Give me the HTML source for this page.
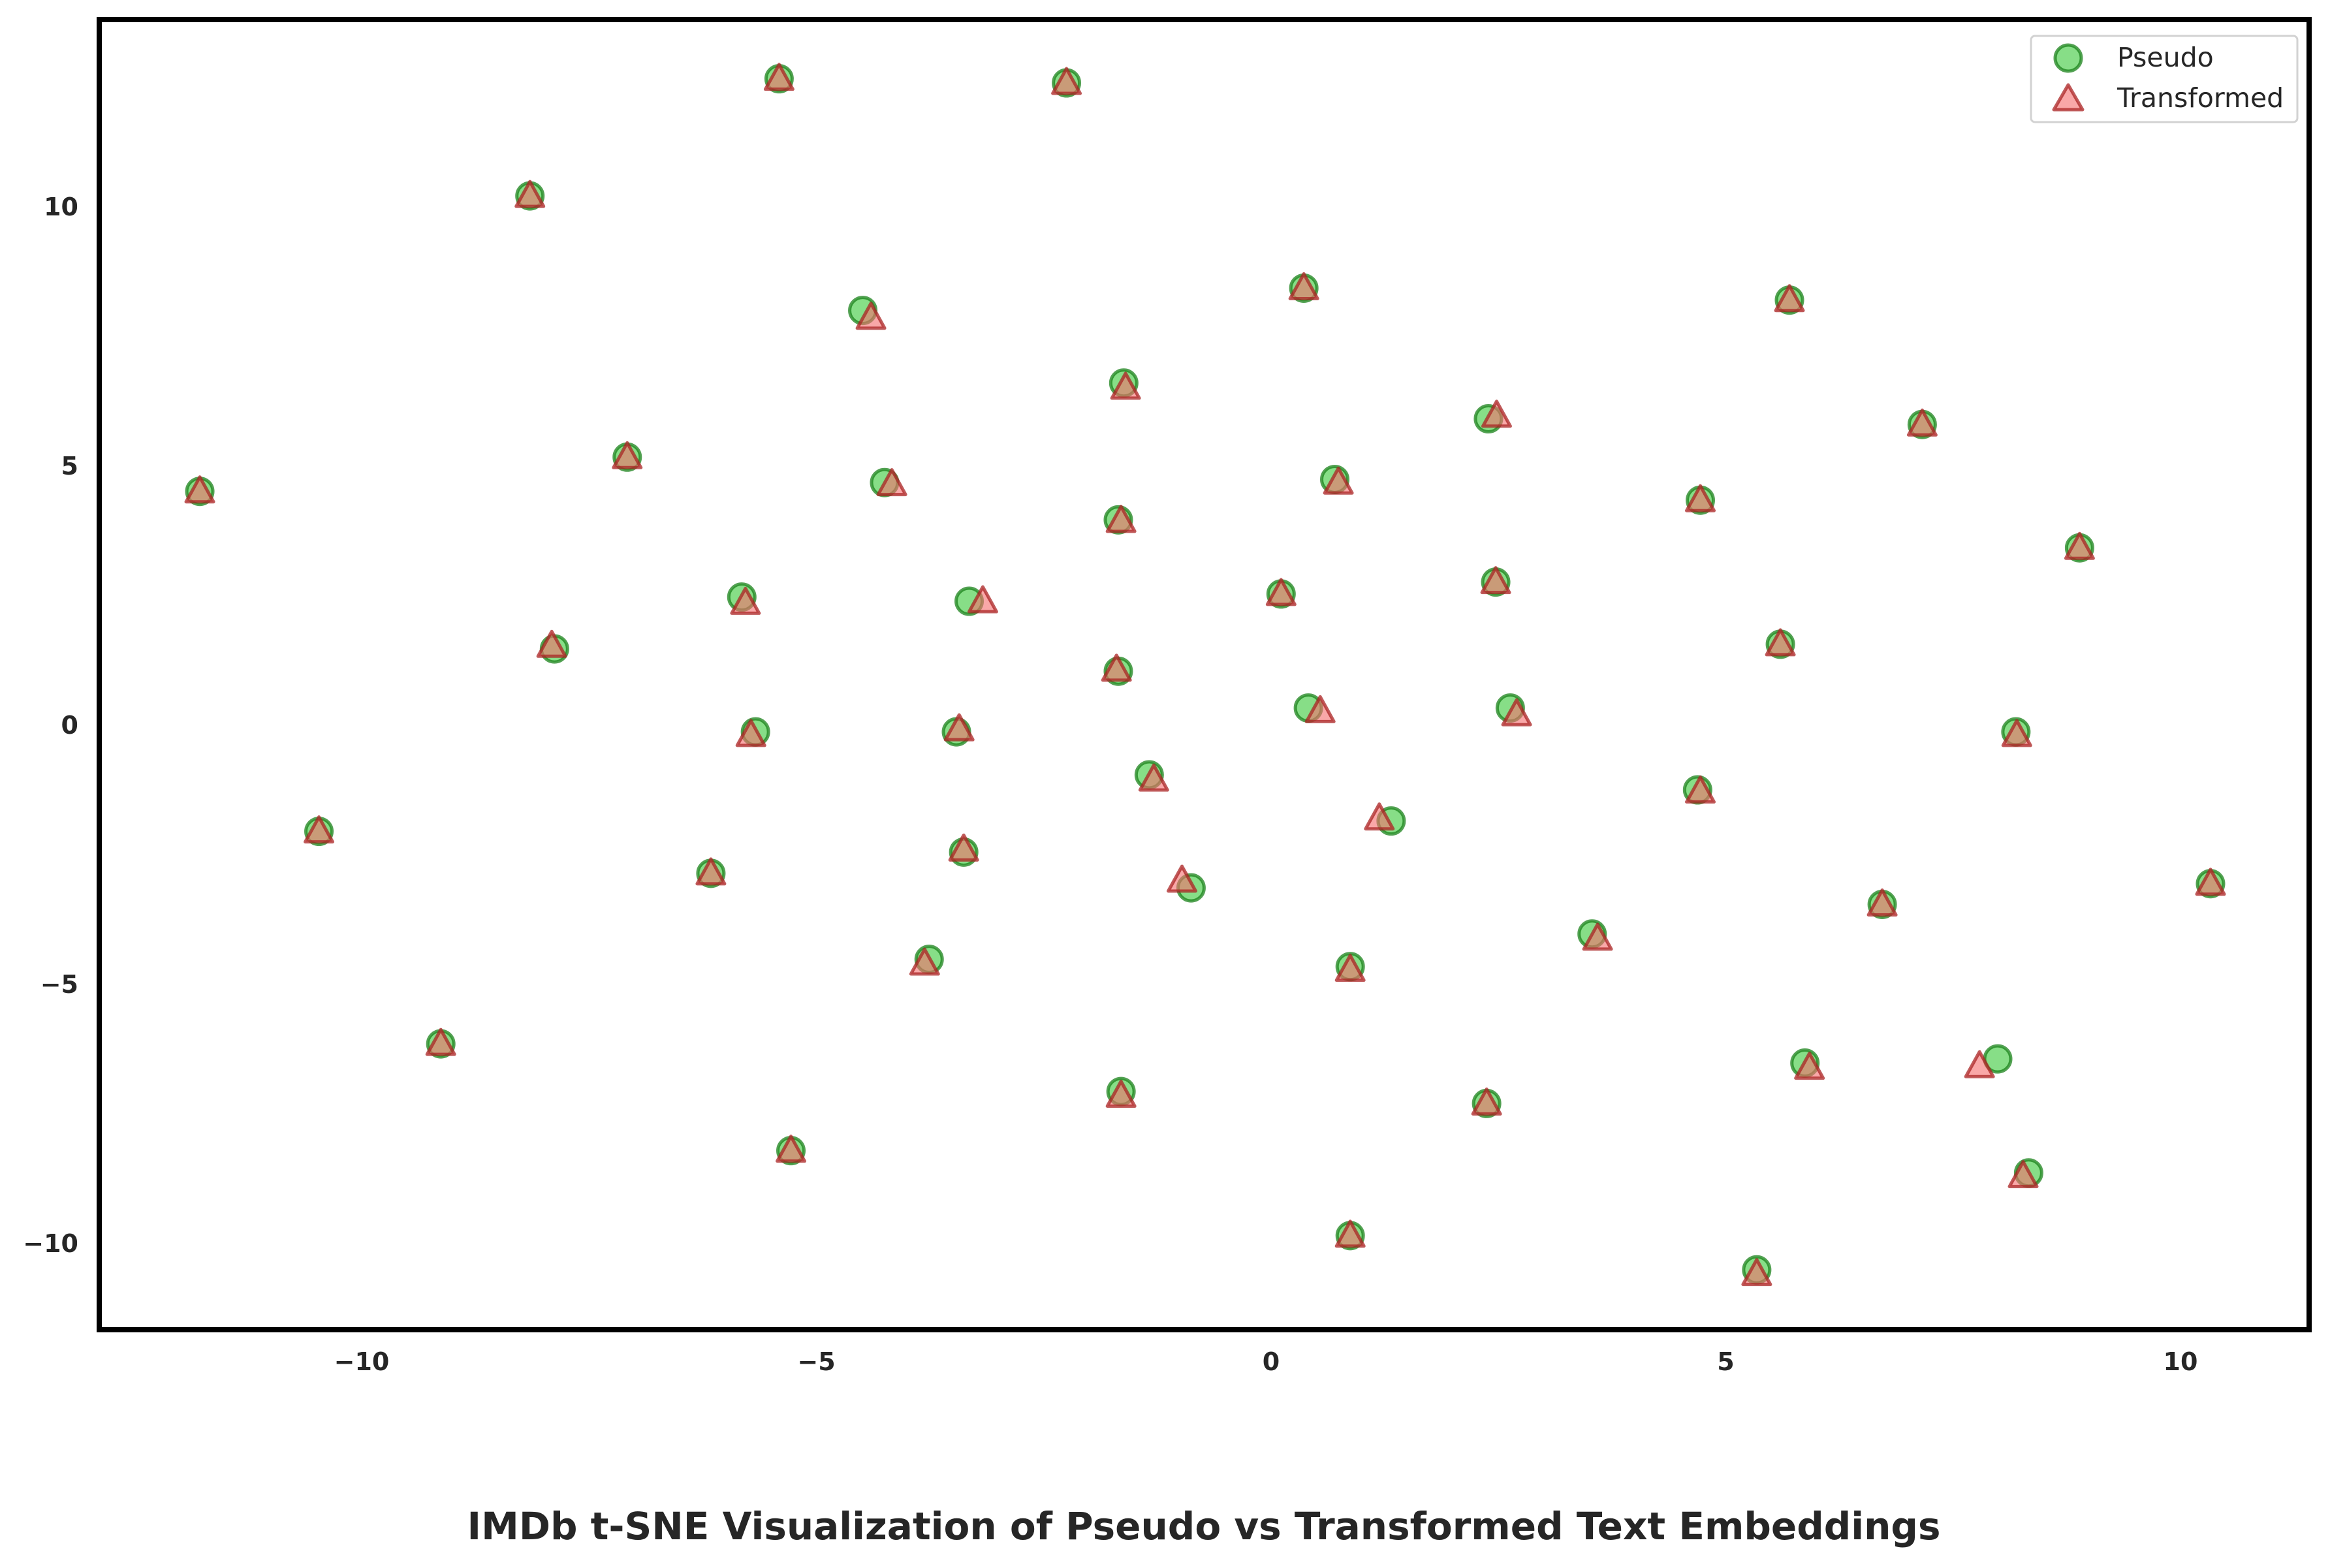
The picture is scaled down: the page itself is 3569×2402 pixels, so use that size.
<!DOCTYPE html>
<html><head><meta charset="utf-8"><style>
html,body{margin:0;padding:0;background:#fff;}
svg{display:block;font-family:"DejaVu Sans","Liberation Sans",sans-serif;}
</style></head><body>
<svg id="chart" width="3569" height="2402" viewBox="0 0 3569 2402" xmlns="http://www.w3.org/2000/svg">
<rect width="3569" height="2402" fill="#fff"/>
<g id="marks"></g>
<rect x="152" y="30" width="3385" height="2007" fill="none" stroke="#000" stroke-width="8"/>
<g id="xticks"></g><g id="yticks"></g>
<g>
<rect x="3111" y="55" width="408" height="132" rx="6" fill="#fff" stroke="#d0d0d0" stroke-width="3" opacity="0.95"/>
<circle cx="3168" cy="89" r="20" fill="rgba(70,205,70,0.65)" stroke="rgba(25,130,25,0.75)" stroke-width="5"/>
<text x="3243" y="102" font-size="41" fill="#262626">Pseudo</text>
<polygon points="3168,130 3190,168 3146,168" fill="rgba(245,110,110,0.6)" stroke="rgba(170,35,35,0.75)" stroke-width="5" stroke-linejoin="round"/>
<text x="3243" y="164" font-size="41" fill="#262626">Transformed</text>
</g>
<text x="1844" y="2358" font-size="58" font-weight="bold" fill="#262626" text-anchor="middle">IMDb t-SNE Visualization of Pseudo vs Transformed Text Embeddings</text>
</svg>
<script>
const pseudoX=[-11.78,-10.47,-9.13,-8.15,-7.88,-7.08,-5.82,-5.67,-6.16,-5.41,-5.28,-4.49,-4.25,-3.76,-3.46,-3.38,-3.32,-2.25,-1.68,-1.68,-1.62,-1.65,-1.34,-0.88,0.11,0.36,0.41,0.70,0.87,0.87,1.32,2.37,2.39,2.47,2.63,3.53,4.69,4.72,5.34,5.60,5.70,5.87,6.72,7.16,7.99,8.19,8.33,8.89,10.33];
const pseudoY=[4.50,-2.06,-6.16,10.20,1.46,5.16,2.46,-0.14,-2.87,12.46,-8.22,7.99,4.67,-4.53,-0.14,-2.46,2.38,12.38,1.03,3.95,6.59,-7.08,-0.97,-3.15,2.52,8.42,0.32,4.73,-4.67,-9.86,-1.86,-7.31,5.90,2.75,0.32,-4.04,-1.26,4.33,-10.52,1.55,8.19,-6.53,-3.47,5.79,-6.45,-0.14,-8.65,3.41,-3.07];
const transX=[-11.78,-10.47,-9.13,-8.15,-7.91,-7.08,-5.78,-5.72,-6.16,-5.41,-5.28,-4.40,-4.17,-3.81,-3.43,-3.38,-3.17,-2.25,-1.70,-1.65,-1.60,-1.65,-1.29,-0.98,0.11,0.36,0.54,0.74,0.87,0.87,1.19,2.37,2.48,2.47,2.70,3.59,4.72,4.72,5.34,5.60,5.70,5.92,6.72,7.16,7.79,8.20,8.27,8.89,10.33];
const transY=[4.50,-2.06,-6.16,10.20,1.52,5.16,2.35,-0.20,-2.87,12.46,-8.22,7.85,4.64,-4.61,-0.09,-2.41,2.38,12.38,1.06,3.93,6.50,-7.16,-1.06,-3.01,2.52,8.42,0.26,4.67,-4.73,-9.86,-1.81,-7.31,5.96,2.75,0.20,-4.13,-1.29,4.33,-10.60,1.55,8.19,-6.62,-3.47,5.79,-6.59,-0.20,-8.71,3.41,-3.07];
const xTicks=[-10,-5,0,5,10];
const yTicks=[-10,-5,0,5,10];
const NS="http://www.w3.org/2000/svg";
function sx(v){return 1947+v*139.3;}
function sy(v){return 1110-v*79.4;}
const marks=document.getElementById('marks');
for(let i=0;i<pseudoX.length;i++){
  const c=document.createElementNS(NS,'circle');
  
  
  c.setAttribute('cx',sx(pseudoX[i]));c.setAttribute('cy',sy(pseudoY[i]));c.setAttribute('r',20);
  c.setAttribute('fill','rgba(70,205,70,0.65)');c.setAttribute('stroke','rgba(25,130,25,0.75)');c.setAttribute('stroke-width',5);
  marks.appendChild(c);
}
for(let i=0;i<transX.length;i++){
  const x=sx(transX[i]),y=sy(transY[i]);
  const p=document.createElementNS(NS,'polygon');
  
  
  p.setAttribute('points',`${x},${y-22} ${x+21},${y+16} ${x-21},${y+16}`);
  p.setAttribute('fill','rgba(245,110,110,0.6)');p.setAttribute('stroke','rgba(170,35,35,0.75)');p.setAttribute('stroke-width',5);p.setAttribute('stroke-linejoin','round');
  marks.appendChild(p);
}
const xt=document.getElementById('xticks');
xTicks.forEach(v=>{
  const t=document.createElementNS(NS,'text');
  
  
  t.setAttribute('x',sx(v));t.setAttribute('y',2099);t.setAttribute('text-anchor','middle');
  t.setAttribute('font-size',38);t.setAttribute('font-weight','bold');t.setAttribute('fill','#262626');
  t.textContent=v<0?'\u2212'+Math.abs(v):String(v);
  xt.appendChild(t);
});
const yt=document.getElementById('yticks');
yTicks.forEach(v=>{
  const t=document.createElementNS(NS,'text');
  
  
  t.setAttribute('x',120);t.setAttribute('y',sy(v)+14);t.setAttribute('text-anchor','end');
  t.setAttribute('font-size',38);t.setAttribute('font-weight','bold');t.setAttribute('fill','#262626');
  t.textContent=v<0?'\u2212'+Math.abs(v):String(v);
  yt.appendChild(t);
});
</script>
</body></html>
